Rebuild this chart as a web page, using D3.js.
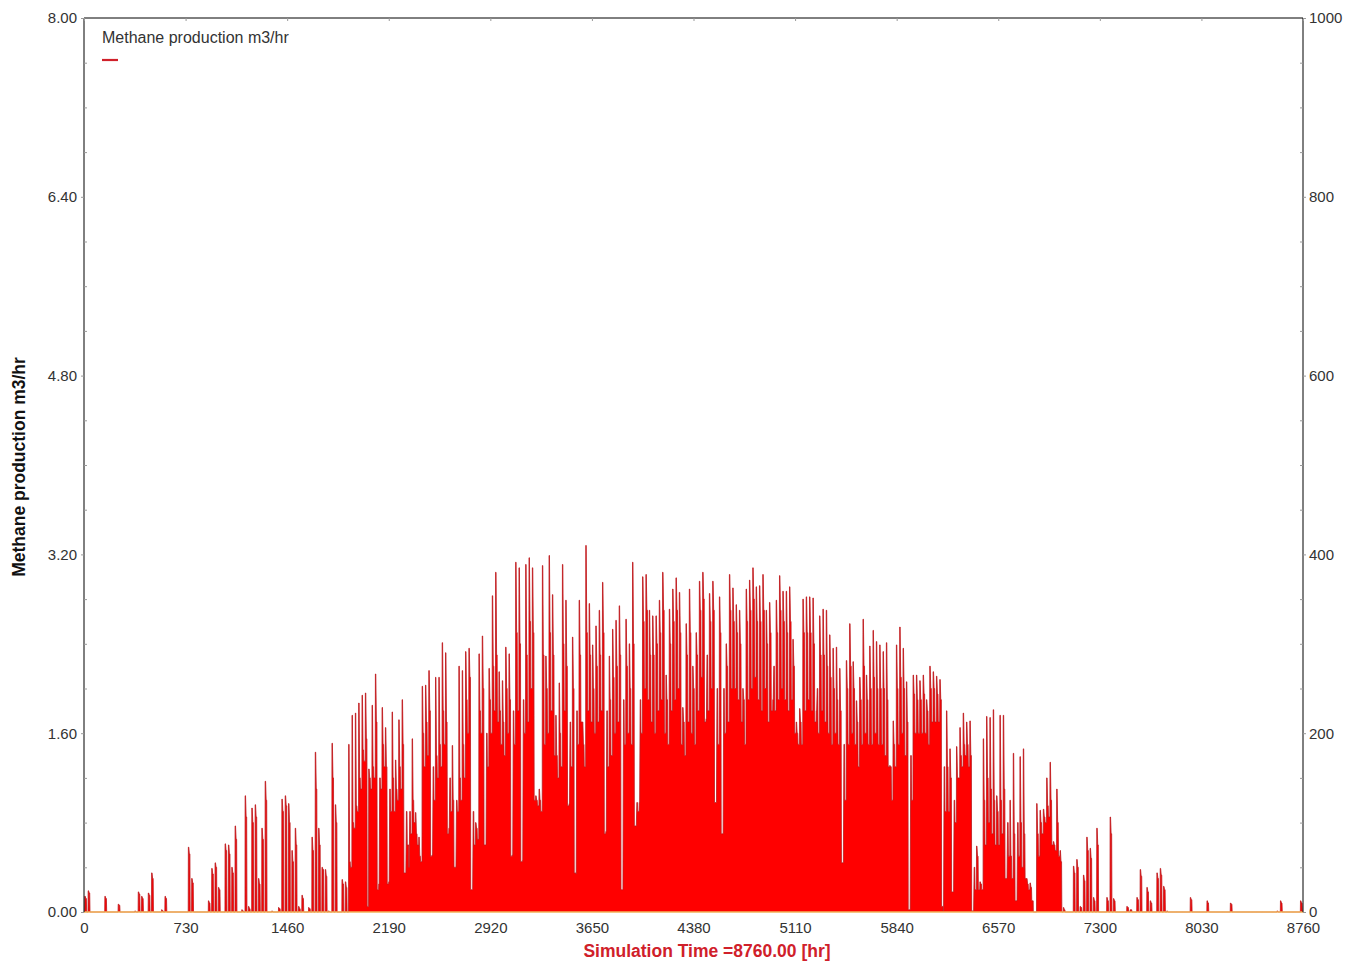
<!DOCTYPE html>
<html>
<head>
<meta charset="utf-8">
<script src="https://cdn.jsdelivr.net/npm/d3@7/dist/d3.min.js"></script>
<style>
  html, body { margin: 0; padding: 0; background: #ffffff; }
  svg { display: block; }
  text { font-family: "Liberation Sans", Arial, sans-serif; }
</style>
</head>
<body>
<svg id="chart" width="1360" height="965"></svg>
<script>
// ---------------- DATA ----------------
const seriesName = "Methane production m3/hr";
const xTitle = "Simulation Time =8760.00 [hr]";
const xTicks = [0, 730, 1460, 2190, 2920, 3650, 4380, 5110, 5840, 6570, 7300, 8030, 8760];
const yLeftTicks = [0, 1.6, 3.2, 4.8, 6.4, 8.0];
const yRightTicks = [0, 200, 400, 600, 800, 1000];

// morning peak of each day (m3/hr), day 0..364
const peak = [
  0.14,0.19,0,0,0,0,0.14,0,0,0,
  0.07,0,0,0,0,0.01,0.18,0.14,0,0.17,
  0.35,0,0,0.02,0.14,0,0,0,0,0,
  0,0.58,0.30,0,0,0,0,0.10,0.39,0.44,
  0.22,0,0.61,0.60,0.40,0.77,0,0.02,1.04,0.05,
  0.93,0.96,0.30,0.75,1.17,0,0.01,0,0.04,1.01,
  1.04,0.97,0.55,0.75,0.05,0.15,0,0.04,0.67,1.43,
  0.75,0.40,0.38,0.01,1.51,0.96,0,0.29,0.27,1.50,
  1.76,1.78,1.87,1.94,1.96,1.28,1.85,2.13,0.25,1.83,
  1.65,0.27,1.79,1.36,1.72,1.90,0.35,0.40,1.55,0.89,
  0.67,2.02,2.03,2.16,0.51,2.10,2.10,2.41,2.32,0.75,
  1.49,0.40,2.20,2.16,2.33,2.36,0.20,0.80,2.31,2.47,
  0.60,2.18,2.83,3.04,2.15,2.07,2.37,2.31,0.51,3.13,
  3.08,0.46,3.11,3.17,3.08,1.04,1.10,3.10,2.29,3.19,
  2.84,1.76,2.05,3.11,2.79,0.97,2.46,0.34,2.79,1.70,
  3.28,2.76,2.39,2.56,2.70,2.95,0.72,2.29,2.53,2.61,
  2.74,0.20,2.62,2.40,3.13,0.77,0.98,3.00,3.02,2.70,
  2.65,2.65,2.79,3.04,2.12,2.71,2.89,2.99,2.86,1.83,
  2.58,2.89,2.20,2.50,2.96,3.04,1.73,2.85,2.96,0.98,
  2.82,0.70,2.40,3.02,2.90,2.75,2.70,2.00,2.89,2.97,
  3.08,2.91,2.92,3.02,2.70,2.77,1.90,2.79,3.01,2.87,
  2.87,2.91,2.44,1.70,1.82,2.80,2.82,2.82,2.81,1.80,
  2.65,2.71,2.70,2.48,2.36,2.37,2.18,0.44,2.25,2.58,
  2.24,1.89,2.10,2.62,2.12,2.38,2.52,2.42,2.39,2.33,
  2.41,1.31,1.71,2.39,2.55,2.36,2.06,0.02,2.12,2.12,
  2.07,2.12,1.90,2.20,2.15,2.11,2.08,0.01,1.80,1.46,
  0.18,1.48,1.65,1.78,1.70,1.71,0.01,0.59,0.27,1.55,
  1.75,1.74,1.81,1.04,1.76,1.76,0.30,1.00,1.42,0.10,
  1.39,1.46,0.30,0.26,0,0.97,0.91,0.92,1.20,1.34,
  0.63,1.10,0.55,0.04,0,0,0.41,0.47,0.05,0.33,
  0.67,0.57,0.13,0.75,0,0,0.13,0.85,0.12,0,
  0,0,0.05,0.02,0,0.13,0.38,0,0.22,0.10,
  0,0.35,0.39,0.23,0.01,0,0,0,0,0,
  0,0.13,0,0,0,0,0.10,0,0,0,
  0,0,0,0.08,0,0,0,0,0,0,
  0,0,0,0,0,0,0,0.01,0.10,0,
  0,0,0,0,0.10
];

// afternoon level of each day (m3/hr)
const shoulder = [
  0.12,0.17,0,0,0,0,0.12,0,0,0,
  0.06,0,0,0,0,0,0.16,0.12,0,0.15,
  0.30,0,0,0.01,0.12,0,0,0,0,0,
  0,0.52,0.26,0,0,0,0,0.08,0.34,0.40,
  0.20,0,0.55,0.52,0.35,0.65,0,0.01,0.85,0.03,
  0.80,0.85,0.25,0.65,1.00,0,0,0,0.03,0.90,
  0.95,0.80,0.45,0.60,0.03,0.12,0,0.03,0.55,1.10,
  0.60,0.38,0.32,0,1.20,0.80,0,0.25,0.22,0.45,
  0.80,0.95,1.20,1.45,1.55,1.20,1.30,1.70,1.20,1.50,
  1.30,1.10,1.20,1.10,1.30,1.50,0.90,0.90,1.00,0.70,
  0.50,1.60,1.70,1.80,1.30,1.40,1.50,1.80,1.70,1.20,
  1.00,1.00,1.20,1.50,1.90,2.10,0.90,0.75,1.80,2.00,
  1.60,1.90,2.20,2.30,1.80,1.70,2.00,1.90,1.80,2.50,
  2.40,1.90,2.30,2.60,2.50,1.00,1.00,2.30,2.00,2.50,
  2.30,1.40,1.60,2.40,2.20,1.70,2.00,1.80,2.30,1.50,
  2.50,2.30,2.00,2.20,2.30,2.50,1.80,1.90,2.10,2.20,
  2.30,1.90,2.20,2.00,2.40,0.98,1.90,2.60,2.70,2.30,
  2.30,2.40,2.50,2.70,1.90,2.40,2.60,2.70,2.50,1.70,
  2.30,2.50,2.00,2.30,2.70,2.80,2.30,2.60,2.70,2.00,
  2.50,2.00,2.20,2.70,2.60,2.50,2.40,1.90,2.60,2.70,
  2.80,2.60,2.60,2.70,2.40,2.50,2.20,2.50,2.70,2.60,
  2.50,2.60,2.20,1.60,1.70,2.50,2.50,2.50,2.40,2.00,
  2.30,2.30,2.20,2.10,2.00,1.90,1.80,1.50,2.00,2.20,
  2.00,1.70,1.90,2.20,1.90,2.00,2.10,2.00,2.00,2.00,
  1.90,1.30,1.50,2.00,2.10,2.00,1.70,1.40,1.95,1.90,
  1.90,1.95,1.80,2.00,2.00,1.95,1.90,1.30,1.30,1.20,
  1.00,1.20,1.40,1.50,1.50,1.40,0.40,0.50,0.25,1.00,
  1.20,1.10,1.00,0.90,1.00,1.10,0.80,0.50,0.70,0.80,
  0.80,0.70,0.25,0.22,0,0.70,0.80,0.85,0.95,1.00,
  0.60,0.80,0.45,0.02,0,0,0.35,0.40,0.04,0.28,
  0.55,0.48,0.10,0.60,0,0,0.10,0.70,0.10,0,
  0,0,0.04,0.02,0,0.11,0.32,0,0.18,0.08,
  0,0.30,0.33,0.20,0,0,0,0,0,0,
  0,0.11,0,0,0,0,0.08,0,0,0,
  0,0,0,0.07,0,0,0,0,0,0,
  0,0,0,0,0,0,0,0,0.08,0,
  0,0,0,0,0.08
];

// night level after each day (m3/hr)
const night = [
  0,0,0,0,0,0,0,0,0,0,
  0,0,0,0,0,0,0,0,0,0,
  0,0,0,0,0,0,0,0,0,0,
  0,0,0,0,0,0,0,0,0,0,
  0,0,0,0,0,0,0,0,0,0,
  0,0,0,0,0,0,0,0,0,0,
  0,0,0,0,0,0,0,0,0,0,
  0,0,0,0,0,0,0,0,0,0.40,
  0.75,0.90,1.10,1.35,0.05,1.10,1.20,0.20,1.10,1.30,
  0.25,0.90,0.90,1.00,1.10,0.35,0.60,0.70,0.80,0.60,
  0.45,1.30,1.40,0.50,1.00,1.20,1.30,1.50,0.70,0.90,
  0.40,0.90,1.00,1.20,1.60,0.20,0.60,0.65,1.60,0.60,
  1.30,1.60,1.80,1.70,1.50,1.40,1.60,0.50,1.50,1.80,
  0.45,1.60,1.70,2.00,1.00,0.95,0.90,1.50,1.60,1.80,
  1.40,1.20,1.30,1.80,0.95,1.30,0.35,1.50,1.70,1.30,
  1.80,1.70,1.60,1.70,1.80,0.70,1.30,1.40,1.60,1.70,
  0.20,1.50,1.60,1.50,0.77,0.90,1.60,2.00,1.90,1.70,
  1.60,1.80,1.90,1.60,1.50,1.80,1.90,2.00,1.50,1.40,
  1.70,1.60,1.50,1.80,2.10,1.70,1.80,2.00,0.98,1.50,
  0.70,1.60,1.70,2.00,2.00,1.90,1.70,1.50,1.90,2.00,
  2.10,1.90,1.80,2.00,1.70,1.80,1.80,1.90,2.00,1.90,
  1.80,1.90,1.60,1.50,1.50,1.80,1.90,1.80,1.70,1.60,
  1.80,1.70,1.60,1.50,1.60,1.50,0.44,1.00,1.50,1.60,
  1.50,1.30,1.50,1.60,1.50,1.50,1.60,1.50,1.50,1.40,
  1.30,1.00,1.30,1.50,1.60,1.40,0.02,1.00,1.60,1.60,
  1.60,1.60,1.50,1.70,1.70,1.70,0.05,0.90,0.90,0.18,
  0.80,1.20,1.30,1.40,1.30,0.01,0.20,0.20,0.20,0.60,
  0.80,0.70,0.60,0.60,0.70,0.30,0.50,0.30,0.10,0.50,
  0.40,0.30,0.20,0.10,0,0.50,0.70,0.80,0.85,0.60,
  0.55,0.50,0,0,0,0,0,0,0,0,
  0,0,0,0,0,0,0,0,0,0,
  0,0,0,0,0,0,0,0,0,0,
  0,0,0,0,0,0,0,0,0,0,
  0,0,0,0,0,0,0,0,0,0,
  0,0,0,0,0,0,0,0,0,0,
  0,0,0,0,0,0,0,0,0,0,
  0,0,0,0,0
];

// ---------------- LAYOUT ----------------
const plotL = 84, plotR = 1303, plotT = 18, plotB = 912;

const svg = d3.select("#chart");

const x = d3.scaleLinear().domain([0, 8760]).range([plotL, plotR]);
const yL = d3.scaleLinear().domain([0, 8]).range([plotB, plotT]);
const yR = d3.scaleLinear().domain([0, 1000]).range([plotB, plotT]);

// hourly-shaped profile built from the daily values
const pts = [];
for (let d = 0; d < peak.length; d++) {
  const h0 = 24 * d;
  const prev = d > 0 ? night[d - 1] : 0;
  pts.push([h0, prev]);
  pts.push([h0 + 5, prev]);
  pts.push([h0 + 6, peak[d]]);
  pts.push([h0 + 9, peak[d]]);
  pts.push([h0 + 13, shoulder[d]]);
  pts.push([h0 + 17, shoulder[d]]);
  pts.push([h0 + 19, night[d]]);
}
pts.push([8760, night[night.length - 1]]);

const area = d3.area()
  .x(p => x(p[0]))
  .y0(yL(0))
  .y1(p => yL(p[1]));
const line = d3.line()
  .x(p => x(p[0]))
  .y(p => yL(p[1]));

svg.append("path")
  .attr("d", area(pts))
  .attr("fill", "#ff0000");
svg.append("path")
  .attr("d", line(pts))
  .attr("fill", "none")
  .attr("stroke", "#bb1a1e")
  .attr("stroke-width", 0.9)
  .attr("stroke-opacity", 0.9);

// zero line (orange)
svg.append("line")
  .attr("x1", plotL).attr("x2", plotR)
  .attr("y1", yL(0)).attr("y2", yL(0))
  .attr("stroke", "#f0b35a").attr("stroke-width", 1.6);

// frame
svg.append("line").attr("x1", plotL).attr("x2", plotL).attr("y1", plotT).attr("y2", plotB)
  .attr("stroke", "#000").attr("stroke-width", 1);
svg.append("line").attr("x1", plotR).attr("x2", plotR).attr("y1", plotT).attr("y2", plotB)
  .attr("stroke", "#000").attr("stroke-width", 1);
svg.append("line").attr("x1", plotL).attr("x2", plotR).attr("y1", plotT).attr("y2", plotT)
  .attr("stroke", "#000").attr("stroke-width", 1);

// axes
const fmt2 = d3.format(".2f");
svg.append("g").attr("transform", `translate(${plotL},0)`)
  .call(d3.axisLeft(yL).tickValues(yLeftTicks).tickFormat(fmt2).tickSize(3).tickPadding(4));
svg.append("g").attr("transform", `translate(${plotR},0)`)
  .call(d3.axisRight(yR).tickValues(yRightTicks).tickFormat(d3.format("d")).tickSize(3).tickPadding(3));
svg.append("g").attr("transform", `translate(0,${plotB})`)
  .call(d3.axisBottom(x).tickValues(xTicks).tickFormat(d3.format("d")).tickSize(0).tickPadding(10));

// minor ticks
const minorL = d3.range(0, 8.001, 0.4).filter(v => Math.abs(v / 1.6 - Math.round(v / 1.6)) > 1e-6);
svg.append("g").attr("transform", `translate(${plotL},0)`)
  .call(d3.axisLeft(yL).tickValues(minorL).tickFormat("").tickSize(-3));
const minorR = d3.range(0, 1000.1, 50).filter(v => v % 200 !== 0);
svg.append("g").attr("transform", `translate(${plotR},0)`)
  .call(d3.axisRight(yR).tickValues(minorR).tickFormat("").tickSize(-3));
svg.append("g").attr("transform", `translate(0,${plotT})`)
  .call(d3.axisTop(x).tickValues(xTicks).tickFormat("").tickSize(-3));

svg.selectAll(".domain").remove();
svg.selectAll(".tick line").attr("stroke", "#999");
svg.selectAll(".tick text")
  .attr("font-family", '"Liberation Sans", Arial, sans-serif')
  .attr("font-size", 15)
  .attr("fill", "#333");

// titles
svg.append("text")
  .attr("transform", `translate(25,467) rotate(-90)`)
  .attr("text-anchor", "middle")
  .attr("font-size", 17.5)
  .attr("font-weight", "bold")
  .attr("fill", "#111")
  .text(seriesName);

svg.append("text")
  .attr("x", 707).attr("y", 957)
  .attr("text-anchor", "middle")
  .attr("font-size", 17.5)
  .attr("font-weight", "bold")
  .attr("fill", "#d0202a")
  .text(xTitle);

// legend
svg.append("text")
  .attr("x", 102).attr("y", 43)
  .attr("font-size", 16)
  .attr("fill", "#333")
  .text(seriesName);
svg.append("line")
  .attr("x1", 102).attr("x2", 118).attr("y1", 60).attr("y2", 60)
  .attr("stroke", "#d0202a").attr("stroke-width", 2.2);
</script>
</body>
</html>
